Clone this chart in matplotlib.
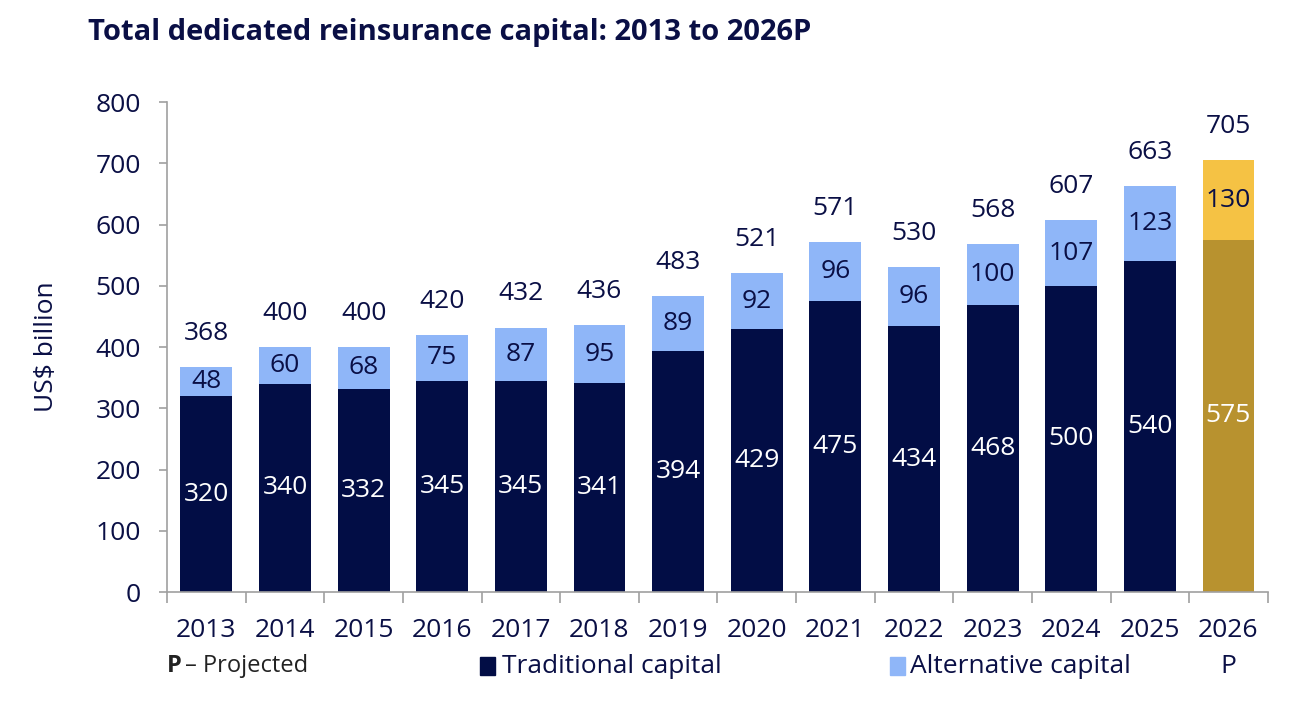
import matplotlib.pyplot as plt
import numpy as np
from matplotlib.patches import Rectangle

plt.rcParams['font.family'] = ['Open Sans', 'DejaVu Sans']

years = ['2013', '2014', '2015', '2016', '2017', '2018', '2019',
         '2020', '2021', '2022', '2023', '2024', '2025', '2026\nP']
traditional = [320, 340, 332, 345, 345, 341, 394, 429, 475, 434, 468, 500, 540, 575]
alternative = [48, 60, 68, 75, 87, 95, 89, 92, 96, 96, 100, 107, 123, 130]
totals = [368, 400, 400, 420, 432, 436, 483, 521, 571, 530, 568, 607, 663, 705]

NAVY = '#020d45'
LIGHT = '#8fb6f8'
GOLD_DARK = '#b8922f'
GOLD_LIGHT = '#f5c244'
TEXT = '#0a0f45'
AXIS = '#a0a0a0'
FS = 19

fig = plt.figure(figsize=(12.95, 7.12), dpi=100)
ax = fig.add_axes([0.129, 0.1685, 0.850, 0.688])

x = np.arange(len(years))
n = len(years)
bottom_colors = [NAVY] * (n - 1) + [GOLD_DARK]
top_colors = [LIGHT] * (n - 1) + [GOLD_LIGHT]

ax.bar(x, traditional, width=0.66, color=bottom_colors)
ax.bar(x, alternative, bottom=traditional, width=0.66, color=top_colors)

for i in range(n):
    ax.text(x[i], traditional[i] / 2, str(traditional[i]), ha='center', va='center',
            color='white', fontsize=FS)
    ax.text(x[i], traditional[i] + alternative[i] / 2, str(alternative[i]), ha='center',
            va='center', color=TEXT, fontsize=FS)
    ax.text(x[i], totals[i] + 55, str(totals[i]), ha='center', va='center',
            color=TEXT, fontsize=FS)

ax.set_xlim(-0.5, n - 0.5)
ax.set_ylim(0, 800)
ax.set_yticks(range(0, 801, 100))
ax.set_xticks(x)
ax.set_xticklabels(years, fontsize=FS, color=TEXT, linespacing=1.55, va='top')
ax.set_xticks(np.arange(-0.5, n, 1), minor=True)
ax.tick_params(axis='x', which='major', length=0, pad=19)
ax.tick_params(axis='x', which='minor', length=8, color=AXIS, width=1.2)
ax.tick_params(axis='y', length=6, color=AXIS, width=1.2, labelsize=FS, labelcolor=TEXT, pad=13)
for lab in ax.get_xticklabels():
    lab.set_multialignment('center')

for side in ['top', 'right']:
    ax.spines[side].set_visible(False)
ax.spines['left'].set_color(AXIS)
ax.spines['bottom'].set_color(AXIS)
ax.spines['left'].set_linewidth(1.2)
ax.spines['bottom'].set_linewidth(1.2)

fig.text(0.036, 0.5125, 'US$ billion', fontsize=FS, color=TEXT, rotation=90,
         ha='center', va='center')

fig.text(0.068, 0.955, 'Total dedicated reinsurance capital: 2013 to 2026P',
         fontsize=21, fontweight='bold', color=TEXT, va='center')

# footer: projection note and legend
fig.text(0.129, 0.064, 'P', fontsize=17, fontweight='bold', color='#222222', va='center')
fig.text(0.143, 0.064, '– Projected', fontsize=17, color='#222222', va='center')

fig.patches.append(Rectangle((0.371, 0.052), 0.0115, 0.025, transform=fig.transFigure,
                             color=NAVY))
fig.text(0.388, 0.064, 'Traditional capital', fontsize=FS, color=TEXT, va='center')
fig.patches.append(Rectangle((0.687, 0.052), 0.0115, 0.025, transform=fig.transFigure,
                             color=LIGHT))
fig.text(0.703, 0.064, 'Alternative capital', fontsize=FS, color=TEXT, va='center')

fig.savefig('out.png', dpi=100)
